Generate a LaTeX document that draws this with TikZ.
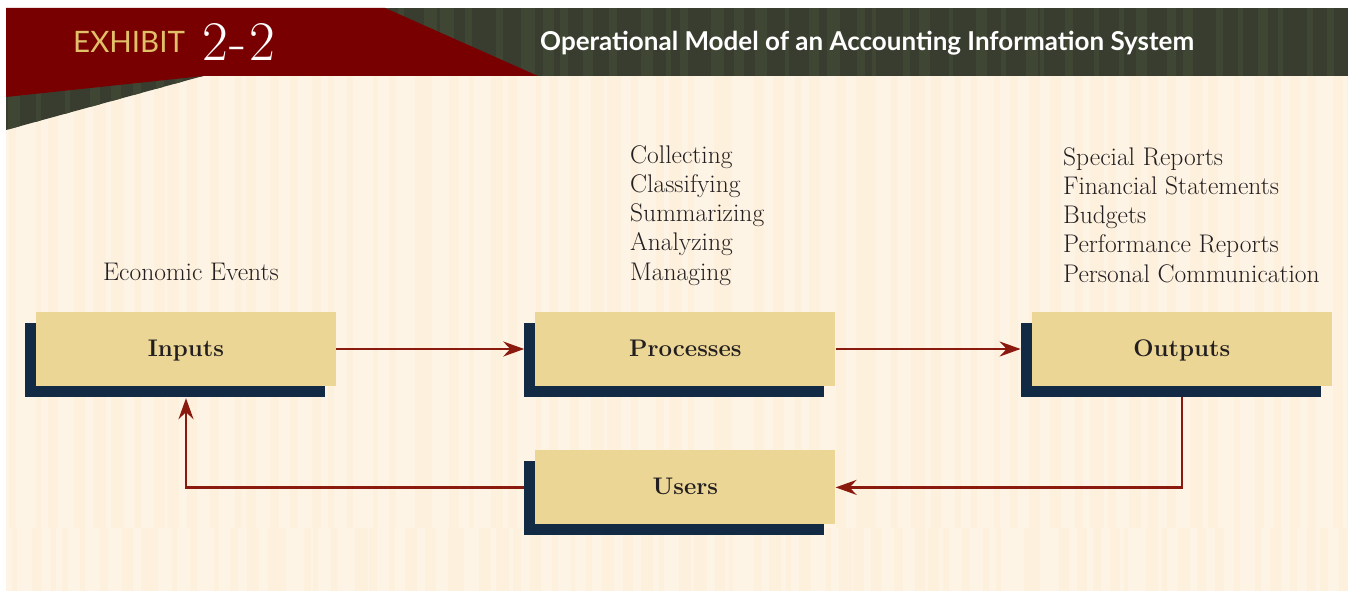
\documentclass[tikz,border=0pt]{standalone}
\usepackage{fontspec}
\usepackage{tikz}
\usetikzlibrary{positioning,arrows.meta,shadows}
\newfontfamily\headsans{Lato}
\definecolor{exred}{HTML}{780000}
\definecolor{exband}{HTML}{393D30}
\definecolor{exbandlt}{HTML}{3F4734}
\definecolor{excream}{HTML}{FEF4E5}
\definecolor{excreamdk}{HTML}{FDF0DD}
\definecolor{exgold}{HTML}{E2C06A}
\definecolor{exbox}{HTML}{EBD695}
\definecolor{exnavy}{HTML}{122A44}
\definecolor{exarrow}{HTML}{8B1A0E}
\definecolor{exink}{HTML}{231F20}

\begin{document}
\begin{tikzpicture}[x=1pt,y=-1pt,
  stage/.style={fill=exbox,minimum width=300pt,minimum height=74pt,inner sep=0pt,
    text height=17pt,text depth=3pt,
    font=\fontsize{24}{28}\selectfont\bfseries,text=exink,
    drop shadow={shadow xshift=-11pt,shadow yshift=-11pt,fill=exnavy,opacity=1}},
  note/.style={font=\fontsize{25.5}{29.3}\selectfont,text=exink,inner sep=0pt,align=left},
  flow/.style={-{Stealth[length=21pt,width=15pt,inset=7pt]},exarrow,line width=2.2pt}
]
\useasboundingbox (0,0) rectangle (1348,591);

% paper with faint vertical stripes
\begin{scope}
  \clip (6,76) rectangle (1348,591);
  \fill[excream] (6,76) rectangle (1348,591);
  \pgfmathsetseed{42}
  \foreach \sx in {6,26,...,1346}{
    \pgfmathsetmacro\sw{5+9*rnd}
    \pgfmathsetmacro\sdx{10*rnd}
    \fill[excreamdk] (\sx+\sdx,76) rectangle (\sx+\sdx+\sw,528);
  }
  \foreach \sx in {6,24,...,1346}{
    \pgfmathsetmacro\sw{4+9*rnd}
    \pgfmathsetmacro\sdx{10*rnd}
    \fill[excreamdk] (\sx+\sdx,528) rectangle (\sx+\sdx+\sw,591);
  }
\end{scope}

% header band
\begin{scope}
  \clip (6,8) -- (1348,8) -- (1348,76) -- (203,76) -- (6,130) -- cycle;
  \fill[exband] (6,8) rectangle (1348,130);
  \pgfmathsetseed{7}
  \foreach \sx in {6,30,...,1346}{
    \pgfmathsetmacro\sw{4+10*rnd}
    \pgfmathsetmacro\sdx{12*rnd}
    \fill[exbandlt] (\sx+\sdx,8) rectangle (\sx+\sdx+\sw,130);
  }
\end{scope}
\fill[exred] (6,8) -- (385,8) -- (538,76) -- (203,76) -- (6,97) -- cycle;

\node[anchor=base west,inner sep=0pt,text=exgold,font=\headsans\fontsize{29.5}{30}\selectfont] (exlabel) at (73,53) {EXHIBIT};
\node[anchor=base west,inner sep=0pt,text=white,font=\fontsize{56}{56}\selectfont] (exnum) at (202,61) {2\kern2pt-\kern3pt2};
\node[anchor=base west,inner sep=0pt,text=white,font=\headsans\bfseries\fontsize{26}{26}\selectfont] (title) at (540,51) {Operational Model of an Accounting Information System};

% the four stages
\node[stage] (inputs) at (186,349) {Inputs};
\node[stage,right=199pt of inputs] (processes) {Processes};
\node[stage,right=196pt of processes] (outputs) {Outputs};
\node[stage,below=64pt of processes] (users) {Users};

\node[note,anchor=base] (events) at (191,280) {Economic Events};
\node[note,anchor=north west] (steps) at (630,145) {Collecting\\Classifying\\Summarizing\\Analyzing\\Managing};
\node[note,anchor=north west] (reports) at (1063,147) {Special Reports\\Financial Statements\\Budgets\\Performance Reports\\Personal Communication};

\draw[flow] (inputs.east) -- ([xshift=-11pt]processes.west);
\draw[flow] (processes.east) -- ([xshift=-11pt]outputs.west);
\draw[flow] ([yshift=-11pt]outputs.south) |- (users.east);
\draw[flow] ([xshift=-11pt]users.west) -| ([yshift=-12pt]inputs.south);
\end{tikzpicture}
\end{document}
